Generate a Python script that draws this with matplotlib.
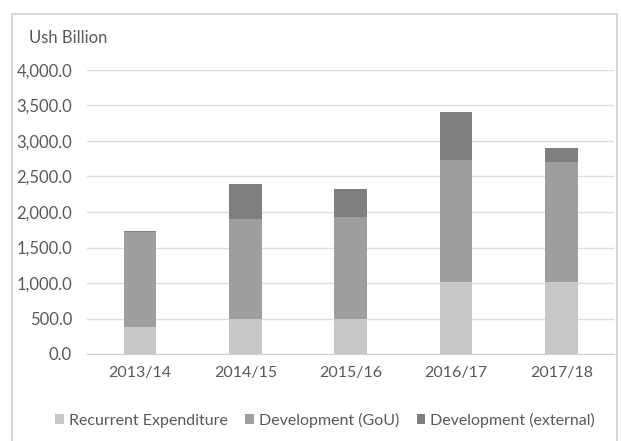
import matplotlib
matplotlib.use("Agg")
import matplotlib.pyplot as plt
from matplotlib.patches import Rectangle
from matplotlib.ticker import FuncFormatter
import numpy as np

# Ausgaben nach Finanzjahr, in Mrd. Ush
jahre = ["2013/14", "2014/15", "2015/16", "2016/17", "2017/18"]
recurrent = [385, 495, 490, 1020, 1020]
dev_gou = [1335, 1405, 1443, 1712, 1679]
dev_extern = [12, 500, 386, 671, 206]

serien = ["Recurrent Expenditure", "Development (GoU)", "Development (external)"]
farben = ["#c8c8c8", "#9e9e9e", "#7f7f7f"]
textfarbe = "#595959"

plt.rcParams["font.family"] = ["Lato", "DejaVu Sans"]

W, H = 621, 441
fig = plt.figure(figsize=(W / 100, H / 100), dpi=100)

# Rahmen um das Diagramm
fig.patches.append(Rectangle((11.5 / W, -0.05), (617 - 11.5) / W, 1.05 - 14 / H,
                             transform=fig.transFigure, fill=False,
                             edgecolor="#d0d0d0", linewidth=1.2))

ax = fig.add_axes([87.4 / W, (H - 354) / H, (614 - 87.4) / W, (354 - 70) / H])

x = np.arange(len(jahre))
breite = 0.31
unten = np.zeros(len(jahre))
for werte, name, farbe in zip([recurrent, dev_gou, dev_extern], serien, farben):
    ax.bar(x, werte, breite, bottom=unten, color=farbe, label=name, zorder=3)
    unten += np.array(werte)

ax.set_xlim(-0.5, len(jahre) - 0.5)
ax.set_ylim(0, 4000)
ax.set_yticks(np.arange(0, 4001, 500))
ax.yaxis.set_major_formatter(FuncFormatter(lambda v, _: f"{v:,.1f}"))
ax.set_xticks(x)
ax.set_xticklabels(jahre)
ax.grid(axis="y", color="#dcdcdc", linewidth=1.0, zorder=0)
for s in ["top", "right", "left"]:
    ax.spines[s].set_visible(False)
ax.spines["bottom"].set_color("#d0d0d0")
ax.tick_params(axis="y", length=0, labelsize=12, labelcolor=textfarbe, pad=11)
ax.tick_params(axis="x", length=0, labelsize=11.5, labelcolor=textfarbe, pad=9)

fig.text(29 / W, 1 - 38 / H, "Ush Billion", fontsize=12, color=textfarbe,
         ha="left", va="center")

fig.legend(loc="center", bbox_to_anchor=(325 / W, 1 - 420 / H), ncol=3,
           frameon=False, fontsize=11.5, labelcolor=textfarbe,
           handlelength=0.55, handleheight=0.55, handletextpad=0.3,
           columnspacing=1.1)

fig.savefig("out.png", dpi=100)
